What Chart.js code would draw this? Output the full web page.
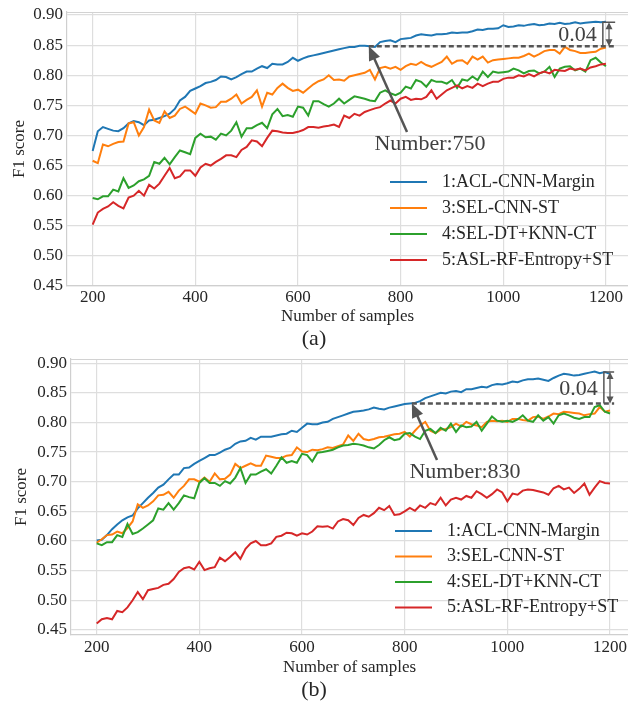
<!DOCTYPE html>
<html>
<head>
<meta charset="utf-8">
<script src="https://cdn.jsdelivr.net/npm/chart.js@4.4.0/dist/chart.umd.min.js"></script>
<style>
  html, body { margin: 0; padding: 0; background: #fff; }
  #wrap { position: relative; width: 628px; height: 701px; }
  .box { position: absolute; left: 0; width: 628px; }
</style>
</head>
<body>
<div id="wrap">
  <div class="box" style="top:0;height:350px"><canvas id="chartA"></canvas></div>
  <div class="box" style="top:350px;height:351px"><canvas id="chartB"></canvas></div>
</div>
<script>
// number of samples, 200..1200 step 10
var samples = [200,210,220,230,240,250,260,270,280,290,300,310,320,330,340,350,360,370,380,390,
  400,410,420,430,440,450,460,470,480,490,500,510,520,530,540,550,560,570,580,590,
  600,610,620,630,640,650,660,670,680,690,700,710,720,730,740,750,760,770,780,790,
  800,810,820,830,840,850,860,870,880,890,900,910,920,930,940,950,960,970,980,990,
  1000,1010,1020,1030,1040,1050,1060,1070,1080,1090,1100,1110,1120,1130,1140,1150,1160,1170,1180,1190,1200];

var seriesNames = ['1:ACL-CNN-Margin', '3:SEL-CNN-ST', '4:SEL-DT+KNN-CT', '5:ASL-RF-Entropy+ST'];
var xTicks = [200, 400, 600, 800, 1000, 1200];
var yTicks = [0.45, 0.50, 0.55, 0.60, 0.65, 0.70, 0.75, 0.80, 0.85, 0.90];

// (a)
var aclA = [0.674,0.707,0.714,0.711,0.708,0.707,0.712,0.720,0.724,0.722,0.717,0.725,0.726,0.729,0.732,0.736,0.744,
  0.758,0.764,0.774,0.778,0.782,0.787,0.789,0.792,0.798,0.797,0.793,0.797,0.802,0.806,0.806,0.811,0.815,0.812,0.819,0.818,0.818,0.822,0.829,0.824,0.828,0.831,0.833,0.835,
  0.837,0.839,0.841,0.843,0.845,0.847,0.847,0.849,0.849,0.848,0.847,0.855,0.857,0.858,0.855,0.860,0.861,0.862,0.866,0.868,0.867,0.866,0.868,0.868,0.869,0.871,0.870,0.871,0.871,0.873,0.876,0.875,0.877,0.877,0.878,0.883,0.880,0.881,0.883,0.882,0.884,0.885,0.883,0.884,0.886,0.885,0.887,0.885,0.886,0.888,0.886,0.887,0.888,0.889,0.888,0.889];
var selA = [0.658,0.654,0.685,0.682,0.686,0.689,0.690,0.720,0.722,0.700,0.714,0.743,0.725,0.721,0.740,0.729,0.733,
  0.744,0.748,0.742,0.736,0.753,0.750,0.746,0.747,0.756,0.756,0.761,0.768,0.753,0.759,0.764,0.775,0.748,0.771,0.768,0.779,0.786,0.779,0.774,0.776,0.771,0.778,0.785,0.790,
  0.793,0.800,0.792,0.793,0.791,0.798,0.800,0.802,0.804,0.809,0.793,0.812,0.814,0.811,0.814,0.809,0.815,0.819,0.817,0.822,0.817,0.814,0.818,0.822,0.831,0.819,0.824,0.825,0.819,0.831,0.826,0.831,0.821,0.825,0.826,0.827,0.828,0.829,0.829,0.832,0.836,0.831,0.835,0.840,0.842,0.842,0.836,0.847,0.842,0.840,0.837,0.837,0.838,0.839,0.844,0.846];
var dtA = [0.596,0.594,0.599,0.599,0.610,0.607,0.629,0.613,0.617,0.624,0.627,0.633,0.656,0.653,0.663,0.652,0.664,
  0.675,0.672,0.669,0.696,0.703,0.697,0.698,0.693,0.703,0.700,0.708,0.722,0.698,0.712,0.712,0.717,0.721,0.712,0.735,0.744,0.732,0.734,0.731,0.748,0.746,0.733,0.757,0.757,
  0.752,0.748,0.753,0.761,0.753,0.759,0.765,0.763,0.761,0.758,0.757,0.771,0.775,0.770,0.767,0.771,0.781,0.778,0.792,0.789,0.781,0.792,0.789,0.789,0.786,0.792,0.779,0.793,0.791,0.798,0.792,0.806,0.797,0.806,0.804,0.805,0.806,0.811,0.808,0.803,0.807,0.808,0.803,0.806,0.814,0.797,0.811,0.814,0.815,0.808,0.811,0.806,0.825,0.829,0.821,0.815];
var rfA = [0.552,0.572,0.578,0.582,0.589,0.583,0.579,0.597,0.600,0.608,0.600,0.618,0.612,0.620,0.633,0.646,0.629,
  0.632,0.642,0.642,0.633,0.647,0.653,0.650,0.656,0.661,0.667,0.667,0.664,0.676,0.681,0.692,0.690,0.682,0.696,0.708,0.707,0.705,0.704,0.704,0.706,0.709,0.714,0.714,0.713,
  0.715,0.716,0.718,0.714,0.733,0.729,0.736,0.733,0.739,0.742,0.745,0.747,0.753,0.758,0.753,0.761,0.764,0.759,0.761,0.760,0.764,0.775,0.761,0.768,0.775,0.779,0.783,0.778,0.782,0.779,0.786,0.782,0.786,0.789,0.789,0.794,0.796,0.796,0.800,0.798,0.802,0.798,0.803,0.806,0.803,0.809,0.808,0.807,0.811,0.809,0.811,0.808,0.813,0.815,0.818,0.819];

// (b)
var aclB = [0.601,0.602,0.610,0.620,0.628,0.635,0.640,0.643,0.655,0.664,0.673,0.681,0.690,0.695,0.704,0.712,0.712,
  0.723,0.724,0.730,0.735,0.740,0.745,0.745,0.749,0.754,0.757,0.764,0.768,0.769,0.774,0.771,0.776,0.776,0.776,0.778,0.780,0.781,0.786,0.784,0.791,0.798,0.797,0.797,0.800,
  0.801,0.806,0.809,0.812,0.815,0.818,0.819,0.820,0.822,0.825,0.823,0.822,0.825,0.827,0.829,0.831,0.832,0.833,0.836,0.841,0.844,0.847,0.850,0.849,0.852,0.853,0.851,0.856,0.856,0.858,0.860,0.859,0.863,0.865,0.864,0.866,0.869,0.868,0.871,0.873,0.873,0.874,0.872,0.870,0.875,0.879,0.882,0.881,0.879,0.880,0.882,0.884,0.886,0.883,0.885,0.882];
var selB = [0.597,0.603,0.610,0.611,0.616,0.613,0.622,0.633,0.662,0.656,0.660,0.667,0.677,0.678,0.683,0.673,0.685,
  0.693,0.704,0.704,0.700,0.707,0.700,0.714,0.704,0.705,0.712,0.730,0.723,0.727,0.731,0.727,0.727,0.744,0.742,0.740,0.740,0.744,0.745,0.758,0.751,0.750,0.754,0.753,0.755,
  0.758,0.757,0.760,0.763,0.778,0.769,0.781,0.772,0.770,0.772,0.775,0.776,0.778,0.780,0.781,0.784,0.776,0.786,0.795,0.801,0.786,0.782,0.788,0.789,0.792,0.798,0.793,0.801,0.797,0.795,0.792,0.801,0.803,0.802,0.803,0.801,0.806,0.806,0.804,0.803,0.809,0.810,0.806,0.810,0.815,0.814,0.818,0.817,0.816,0.815,0.812,0.814,0.815,0.826,0.818,0.820];
var dtB = [0.596,0.593,0.598,0.598,0.610,0.607,0.629,0.612,0.615,0.621,0.628,0.635,0.655,0.653,0.664,0.653,0.664,
  0.677,0.674,0.672,0.698,0.706,0.698,0.698,0.693,0.701,0.697,0.707,0.723,0.698,0.712,0.712,0.717,0.721,0.714,0.727,0.741,0.732,0.735,0.732,0.747,0.745,0.734,0.749,0.750,
  0.752,0.754,0.758,0.761,0.762,0.764,0.763,0.761,0.758,0.756,0.762,0.770,0.775,0.770,0.772,0.781,0.782,0.776,0.772,0.786,0.789,0.782,0.791,0.786,0.798,0.784,0.795,0.792,0.793,0.801,0.786,0.798,0.810,0.803,0.801,0.803,0.801,0.805,0.812,0.803,0.801,0.812,0.803,0.809,0.798,0.812,0.815,0.812,0.808,0.806,0.809,0.809,0.826,0.829,0.818,0.815];
var rfB = [0.461,0.468,0.470,0.468,0.482,0.480,0.488,0.500,0.514,0.502,0.517,0.519,0.521,0.526,0.528,0.536,0.548,
  0.554,0.556,0.552,0.565,0.551,0.554,0.556,0.572,0.566,0.573,0.581,0.570,0.587,0.596,0.600,0.593,0.593,0.596,0.607,0.609,0.614,0.613,0.609,0.613,0.611,0.616,0.625,
  0.624,0.625,0.621,0.633,0.637,0.635,0.627,0.639,0.644,0.641,0.647,0.656,0.652,0.659,0.644,0.645,0.650,0.656,0.651,0.660,0.656,0.664,0.661,0.673,0.660,0.670,0.673,0.670,0.676,0.673,0.684,0.679,0.673,0.679,0.687,0.682,0.667,0.680,0.678,0.685,0.687,0.686,0.684,0.682,0.678,0.689,0.693,0.687,0.690,0.681,0.688,0.697,0.678,0.690,0.701,0.698,0.697];

// where the gap marker sits: start sample, low/high F1
var gapA = { from: 738, low: 0.848, high: 0.888, label: 'Number:750', diff: '0.04' };
var gapB = { from: 814, low: 0.832, high: 0.885, label: 'Number:830', diff: '0.04' };

var colors = ['#1f77b4', '#ff7f0e', '#2ca02c', '#d62728'];
var serif = '"Liberation Serif", "Times New Roman", serif';
var textColor = '#262626';

function makeSets(values) {
  return values.map(function (vals, i) {
    return {
      label: seriesNames[i],
      data: samples.map(function (s, j) { return { x: s, y: vals[j] }; }),
      borderColor: colors[i],
      borderWidth: 2,
      pointRadius: 0,
      tension: 0,
      fill: false,
      order: 3 - i
    };
  });
}

function arrowHead(ctx, x1, y1, x2, y2, len, half) {
  var a = Math.atan2(y2 - y1, x2 - x1);
  ctx.beginPath();
  ctx.moveTo(x2, y2);
  ctx.lineTo(x2 - len * Math.cos(a) + half * Math.sin(a), y2 - len * Math.sin(a) - half * Math.cos(a));
  ctx.lineTo(x2 - len * Math.cos(a) - half * Math.sin(a), y2 - len * Math.sin(a) + half * Math.cos(a));
  ctx.closePath();
  ctx.fill();
}

// legend, gap marker and arrow note
var overlay = {
  id: 'overlay',
  afterDatasetsDraw: function (chart, args, o) {
    var ctx = chart.ctx, xs = chart.scales.x, ys = chart.scales.y, area = chart.chartArea;
    ctx.save();
    // top spine
    ctx.strokeStyle = '#d2d2d2';
    ctx.lineWidth = 1.2;
    ctx.beginPath();
    ctx.moveTo(area.left, area.top + 0.5);
    ctx.lineTo(area.right, area.top + 0.5);
    ctx.stroke();

    // legend
    ctx.font = '18px ' + serif;
    ctx.textBaseline = 'middle';
    ctx.textAlign = 'left';
    chart.data.datasets.forEach(function (ds, i) {
      var ly = o.legendY + i * o.legendGap;
      ctx.strokeStyle = ds.borderColor;
      ctx.lineWidth = 2;
      ctx.beginPath();
      ctx.moveTo(o.legendX, ly);
      ctx.lineTo(o.legendX + 37, ly);
      ctx.stroke();
      ctx.fillStyle = textColor;
      ctx.fillText(ds.label, o.legendX + 52, ly);
    });

    var g = o.gap;
    var x0 = xs.getPixelForValue(g.from);
    var yLow = ys.getPixelForValue(g.low);
    var yHigh = ys.getPixelForValue(g.high);
    var xEnd = xs.getPixelForValue(o.gapEnd);
    var xBar = xs.getPixelForValue(o.gapBar);
    var xArr = xs.getPixelForValue(o.gapArrow);

    ctx.strokeStyle = '#555';
    ctx.fillStyle = '#555';
    // dashed level
    ctx.lineWidth = 2.5;
    ctx.setLineDash([5, 3]);
    ctx.beginPath();
    ctx.moveTo(x0, yLow);
    ctx.lineTo(xEnd, yLow);
    ctx.stroke();
    ctx.setLineDash([]);
    // bracket
    ctx.lineWidth = 1.5;
    ctx.beginPath();
    ctx.moveTo(xEnd, yHigh);
    ctx.lineTo(xBar, yHigh);
    ctx.lineTo(xBar, yLow);
    ctx.stroke();
    // double arrow
    ctx.lineWidth = 1.2;
    ctx.beginPath();
    ctx.moveTo(xArr, yHigh + 5);
    ctx.lineTo(xArr, yLow - 5);
    ctx.stroke();
    arrowHead(ctx, xArr, yLow, xArr, yHigh, 7, 3.5);
    arrowHead(ctx, xArr, yHigh, xArr, yLow, 7, 3.5);

    // diff text
    ctx.font = '22px ' + serif;
    ctx.fillStyle = '#404040';
    ctx.textAlign = 'right';
    ctx.fillText(g.diff, xBar - 6, (yLow + yHigh) / 2 + 1);

    // arrow to the start point
    ctx.strokeStyle = '#555';
    ctx.fillStyle = '#555';
    ctx.lineWidth = 2.5;
    var a = Math.atan2(yLow - o.tail.y, x0 - o.tail.x);
    ctx.beginPath();
    ctx.moveTo(o.tail.x, o.tail.y);
    ctx.lineTo(x0 - 12 * Math.cos(a), yLow - 12 * Math.sin(a));
    ctx.stroke();
    arrowHead(ctx, o.tail.x, o.tail.y, x0, yLow, 14, 6);

    ctx.fillStyle = '#404040';
    ctx.textAlign = 'center';
    ctx.fillText(g.label, o.text.x, o.text.y);
    ctx.restore();
  }
};

function makeOptions(c) {
  var font = { family: serif, size: 17 };
  return {
    responsive: true,
    maintainAspectRatio: false,
    animation: false,
    layout: { padding: { top: c.top, left: 0, right: 0, bottom: 0 } },
    scales: {
      x: {
        type: 'linear',
        min: 150,
        max: c.xMax,
        afterBuildTicks: function (s) { s.ticks = xTicks.map(function (v) { return { value: v }; }); },
        afterFit: function (s) { s.height = c.xHeight; s.paddingLeft = 0; s.paddingRight = 0; },
        grid: { color: '#dedede', lineWidth: 1.2, drawTicks: false },
        border: { color: '#cfcfcf', width: 1.2 },
        ticks: { padding: c.xPad, color: textColor, font: font, maxRotation: 0, callback: function (v) { return String(v); } },
        title: { display: true, text: 'Number of samples', color: textColor, font: { family: serif, size: 17, lineHeight: 1.2 }, padding: { top: 0, bottom: 0 } }
      },
      y: {
        min: c.yMin,
        max: c.yMax,
        afterBuildTicks: function (s) { s.ticks = yTicks.map(function (v) { return { value: v }; }); },
        afterFit: function (s) { s.width = c.yWidth; s.paddingTop = 0; s.paddingBottom = 0; },
        grid: { color: '#dedede', lineWidth: 1.2, drawTicks: false },
        border: { color: '#cfcfcf', width: 1.2 },
        ticks: { padding: 4, color: textColor, font: font, callback: function (v) { return v.toFixed(2); } },
        title: { display: true, text: 'F1 score', color: textColor, font: { family: serif, size: 17, lineHeight: 1.2 }, padding: { top: c.yTitlePad, bottom: 0 } }
      }
    },
    plugins: {
      legend: { display: false },
      tooltip: { enabled: false },
      title: {
        display: true, text: c.tag, position: 'bottom', color: textColor,
        font: { family: serif, size: 22, weight: 'normal', lineHeight: 1 },
        padding: { top: c.tagPad, bottom: 0 }
      },
      overlay: c.overlay
    }
  };
}

new Chart(document.getElementById('chartA'), {
  type: 'line',
  data: { datasets: makeSets([aclA, selA, dtA, rfA]) },
  options: makeOptions({
    top: 12, xMax: 1243, yMin: 0.45, yMax: 0.905, yWidth: 67, xHeight: 41, xPad: 1,
    yTitlePad: 9, tag: '(a)', tagPad: 1,
    overlay: {
      legendX: 390, legendY: 182, legendGap: 26,
      gap: gapA, gapEnd: 1218, gapBar: 1194, gapArrow: 1206,
      tail: { x: 407, y: 132 }, text: { x: 430, y: 144 }
    }
  }),
  plugins: [overlay]
});

new Chart(document.getElementById('chartB'), {
  type: 'line',
  data: { datasets: makeSets([aclB, selB, dtB, rfB]) },
  options: makeOptions({
    top: 9, xMax: 1235, yMin: 0.4415, yMax: 0.907, yWidth: 71, xHeight: 43, xPad: 2,
    yTitlePad: 11, tag: '(b)', tagPad: 1,
    overlay: {
      legendX: 395, legendY: 181, legendGap: 25.5,
      gap: gapB, gapEnd: 1208, gapBar: 1188, gapArrow: 1200,
      tail: { x: 437, y: 110 }, text: { x: 465, y: 122 }
    }
  }),
  plugins: [overlay]
});
</script>
</body>
</html>
